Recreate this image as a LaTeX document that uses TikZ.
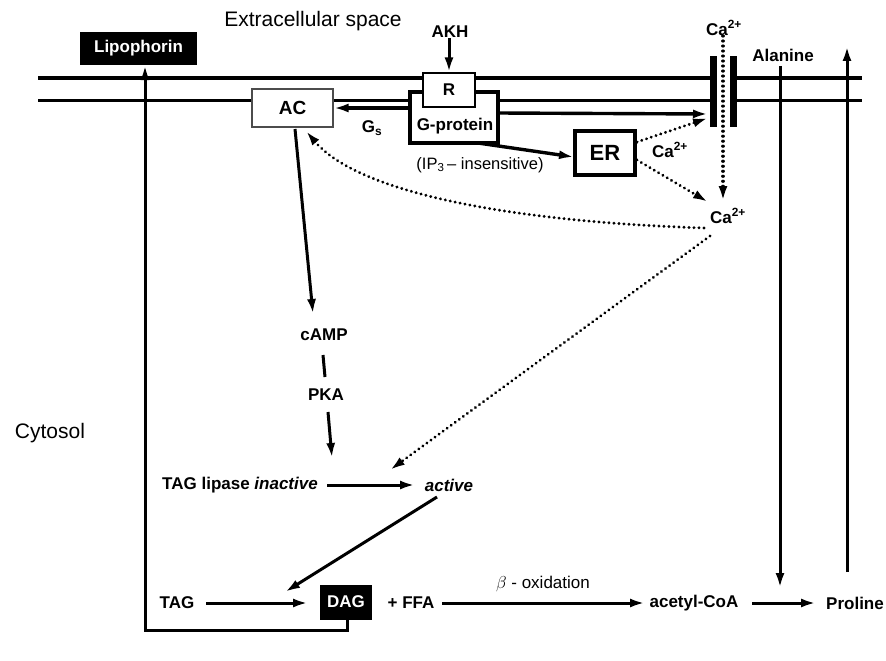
\documentclass[tikz,border=0pt]{standalone}
\usepackage{fontspec}
\setmainfont{Liberation Sans}
\usetikzlibrary{arrows.meta}
\begin{document}
\begin{tikzpicture}[x=1pt,y=-1pt,
 lbl/.style={font=\fontsize{17}{19}\selectfont\bfseries, inner sep=0pt},
 big/.style={font=\fontsize{21}{24}\selectfont, inner sep=0pt},
 tip/.style={-{Latex[length=15pt,width=9pt]}},
 arr/.style={line width=3pt, tip},
 dotarr/.style={line width=3.2pt, line cap=round, dash pattern=on 0.01pt off 5pt, tip},
 mem/.style={line width=3pt},
 boxw/.style={draw, fill=white, inner sep=0pt, anchor=center}
]
\useasboundingbox (0,0) rectangle (886,661);

% membrane
\draw[mem] (38,78) -- (710,78);
\draw[mem] (38,100) -- (710,100);
\draw[mem] (737,78) -- (862,78);
\draw[mem] (737,100) -- (862,100);

% texts
\node[big] (ext) at (313,21) {Extracellular space};
\node[big] (cyt) at (50,433) {Cytosol};

% boxes
\node[fill=black, text=white, lbl, minimum width=117pt, minimum height=33pt] (lip) at (138.5,48.5) {Lipophorin};
\node[boxw, draw=black!70, line width=1.2pt, minimum width=81pt, minimum height=38pt, font=\fontsize{19}{21}\selectfont\bfseries] (AC) at (292.5,108) {AC};
\node[boxw, line width=3.4pt, minimum width=88pt, minimum height=51pt] (gp) at (454,117.5) {};
\node[lbl] (gptext) at (455,126) {G-protein};
\node[boxw, line width=1.2pt, minimum width=52pt, minimum height=34pt, lbl] (R) at (449,90) {R};
\node[boxw, line width=3.4pt, minimum width=60pt, minimum height=44pt, font=\fontsize{22}{24}\selectfont\bfseries] (ER) at (605,153) {ER};

% channel
\node[fill=black, inner sep=0pt, minimum width=7pt, minimum height=71pt] (ch1) at (713.5,91.5) {};
\node[fill=black, inner sep=0pt, minimum width=7pt, minimum height=71pt] (ch2) at (733.5,91.5) {};

% labels
\node[lbl] (akh) at (450,32) {AKH};
\node[lbl] (caTop) at (724,28) {Ca\textsuperscript{2+}};
\node[lbl] (caER) at (670,150) {Ca\textsuperscript{2+}};
\node[lbl] (caLow) at (728,216) {Ca\textsuperscript{2+}};
\node[lbl] (ala) at (783,55) {Alanine};
\node[lbl] (gs) at (372,128) {G\textsubscript{s}};
\node[font=\fontsize{16.5}{18}\selectfont, inner sep=0pt] (ip3) at (480,165) {(IP\textsubscript{3}\,– insensitive)};
\node[lbl] (camp) at (324,335) {cAMP};
\node[lbl] (pka) at (326,395) {PKA};
\node[lbl] (lipin) at (240,485) {TAG lipase \textit{inactive}};
\node[lbl] (act) at (449,485) {\textit{active}};
\node[lbl] (tag) at (177,603) {TAG};
\node[fill=black, text=white, lbl, minimum width=52pt, minimum height=35pt] (dag) at (346,602) {DAG};
\node[lbl] (ffa) at (411,603) {+ FFA};
\node[font=\fontsize{17}{19}\selectfont, inner sep=0pt] (box) at (543,584) {$\beta$ - oxidation};
\node[lbl] (acoa) at (694,603) {acetyl-CoA};
\node[lbl] (pro) at (855,603) {Proline};

% coordinates
\coordinate (c1) at (347,630);
\coordinate (c2) at (145,630);
\coordinate (lipb) at (145,65);
\coordinate (chIn) at (708,114);
\coordinate (gpR) at (498,113);
\coordinate (gpB) at (478,143);
\coordinate (erIn) at (574,157);
\coordinate (erT) at (637,142);
\coordinate (erB) at (637,160);
\coordinate (chT) at (708,118);
\coordinate (caIn) at (708,202);
\coordinate (dTop) at (723,36);
\coordinate (dBot) at (723,201);
\coordinate (cStart) at (704,228);
\coordinate (acB) at (306,131);
\coordinate (c3) at (710,236);
\coordinate (actIn) at (390,470);
\coordinate (alaTop) at (780,66);
\coordinate (alaBot) at (780,588);
\coordinate (upBot) at (847,572);
\coordinate (upTop) at (847,46);
\coordinate (li) at (327,485);
\coordinate (t1) at (206,603);
\coordinate (f1) at (442,603);
\coordinate (a1) at (752,603);

% connectors
\draw[mem, tip] (dag.south -| c1) -- (c1) -- (c2) -- (lipb);
\draw[arr] (akh.south -| R.north) -- (R.north);
\draw[arr, line width=3.8pt] (gp.west |- AC.east) -- (AC.east);
\draw[arr, line width=3.4pt] (gpR) -- (chIn);
\draw[arr, line width=3.4pt] (gpB) -- (erIn);
\draw[dotarr] (erT) -- (chT);
\draw[dotarr] (erB) -- (caIn);
\draw[dotarr] (dTop) -- (dBot);
\draw[dotarr] (cStart) .. controls (520,222) and (360,195) .. (acB);
\draw[dotarr] (c3) -- (actIn);
\draw[arr] (295,129) -- (313,314);
\draw[line width=3pt] (323,355) -- (325,377);
\draw[arr] (328,412) -- (332,458);
\draw[arr] (li) -- (415,485);
\draw[arr] (437,497) -- (285,592);
\draw[arr] (t1) -- (308,603);
\draw[arr] (f1) -- (645,603);
\draw[arr] (a1) -- (816,603);
\draw[arr] (alaTop) -- (alaBot);
\draw[arr] (upBot) -- (upTop);
\end{tikzpicture}
\end{document}
